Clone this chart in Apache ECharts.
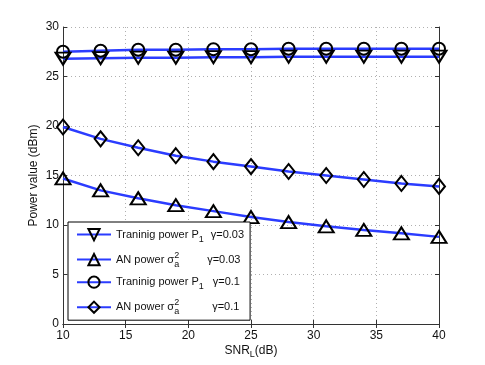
<!DOCTYPE html>
<html><head><meta charset="utf-8">
<script src="https://cdn.jsdelivr.net/npm/echarts@6/dist/echarts.min.js"></script>
<style>html,body{margin:0;padding:0;background:#fff}#c{width:485px;height:365px}</style>
</head><body><div id="c"></div>
<script>
var snr = [10, 13, 16, 19, 22, 25, 28, 31, 34, 37, 40];
var trainP003 = [26.8, 26.85, 26.9, 26.9, 26.95, 26.95, 27.0, 27.0, 27.0, 27.0, 27.0];
var anP003 = [14.7, 13.5, 12.7, 12.0, 11.4, 10.8, 10.3, 9.87, 9.5, 9.16, 8.8];
var trainP01 = [27.5, 27.6, 27.7, 27.7, 27.75, 27.75, 27.8, 27.8, 27.8, 27.8, 27.8];
var anP01 = [19.9, 18.7, 17.8, 17.0, 16.4, 15.9, 15.4, 15.0, 14.6, 14.2, 13.9];
var names = ['Training γ=0.03', 'AN γ=0.03', 'Training γ=0.1', 'AN γ=0.1'];
var xTicks = [10, 15, 20, 25, 30, 35, 40];
var yTicks = [0, 5, 10, 15, 20, 25, 30];

function pairs(ys){ return snr.map(function(x,i){ return [x, ys[i]]; }); }
var font = 'Liberation Sans, Arial, Helvetica, sans-serif';
var blue = '#2b3cff';
function mk(name, data, symbol, size, rot){
  return {
    name: name, type: 'line', data: pairs(data), symbol: symbol, symbolSize: size,
    symbolRotate: rot || 0, showAllSymbol: true,
    lineStyle: {color: blue, width: 2.5},
    itemStyle: {color: 'rgba(255,255,255,0)', borderColor: '#000', borderWidth: 2},
    emphasis: {disabled: true}, animation: false
  };
}
var legendText = {};
legendText[names[0]] = '{n|Traninig power P}{sb|1}{sp1|}{g|γ=0.03}';
legendText[names[1]] = '{n|AN power σ}{su|2}{sb|a}{sp2|}{g|γ=0.03}';
legendText[names[2]] = '{n|Traninig power P}{sb|1}{sp3|}{g|γ=0.1}';
legendText[names[3]] = '{n|AN power σ}{su|2}{sb|a}{sp4|}{g|γ=0.1}';

var chart = echarts.init(document.getElementById('c'), null, {renderer: 'canvas'});
var axisCommon = {
  axisLine: {show: true, lineStyle: {color: '#333', width: 1}},
  axisTick: {show: true, inside: true, length: 4, lineStyle: {color: '#333'}},
  axisLabel: {color: '#111', fontSize: 12, fontFamily: font}
};
chart.setOption({
  backgroundColor: '#fff',
  animation: false,
  grid: {left: 63, right: 46, top: 27, bottom: 41},
  legend: {
    orient: 'vertical', left: 68, top: 222,
    itemWidth: 34, itemHeight: 14, itemGap: 7,
    padding: [6, 6, 4, 8],
    borderColor: '#000', borderWidth: 1, backgroundColor: '#fff',
    data: names,
    formatter: function(n){ return legendText[n]; },
    textStyle: {
      fontFamily: font, fontSize: 11, color: '#111',
      rich: {
        n: {fontFamily: font, fontSize: 11, lineHeight: 18, color: '#111'},
        sb: {fontFamily: font, fontSize: 9, lineHeight: 9, verticalAlign: 'bottom', color: '#111'},
        su: {fontFamily: font, fontSize: 9, lineHeight: 9, verticalAlign: 'top', width: 0.01, color: '#111'},
        sp1: {width: 7, lineHeight: 18}, sp2: {width: 28, lineHeight: 18},
        sp3: {width: 9, lineHeight: 18}, sp4: {width: 33, lineHeight: 18},
        g: {fontFamily: font, fontSize: 11, lineHeight: 18, color: '#111'}
      }
    }
  },
  xAxis: [
    Object.assign({}, axisCommon, {
      type: 'value', min: 10, max: 40, interval: 5, position: 'bottom',
      splitLine: {show: true, lineStyle: {color: '#b0b0b0', type: [1, 3], width: 1}},
      name: '{n|SNR}{s|L}{n|(dB)}', nameLocation: 'middle', nameGap: 19, nameMoveOverlap: false,
      nameTextStyle: {fontFamily: font, fontSize: 12, color: '#111',
        rich: {n: {fontSize: 12, lineHeight: 16, fontFamily: font, color: '#111'},
               s: {fontSize: 9, lineHeight: 8, verticalAlign: 'bottom', fontFamily: font, color: '#111'}}},
      axisLabel: {color: '#111', fontSize: 12, fontFamily: font, margin: 6,
        formatter: function(v){ return xTicks.indexOf(v) >= 0 ? String(v) : ''; }}
    }),
    Object.assign({}, axisCommon, {
      type: 'value', min: 10, max: 40, interval: 5, position: 'top',
      axisLabel: {show: false}, splitLine: {show: false}
    })
  ],
  yAxis: [
    Object.assign({}, axisCommon, {
      type: 'value', min: 0, max: 30, interval: 5, position: 'left',
      splitLine: {show: true, lineStyle: {color: '#b0b0b0', type: [1, 3], width: 1}},
      name: 'Power value (dBm)', nameLocation: 'middle', nameGap: 23, nameMoveOverlap: false,
      nameTextStyle: {fontFamily: font, fontSize: 12, color: '#111'},
      axisLabel: {color: '#111', fontSize: 12, fontFamily: font, margin: 4,
        formatter: function(v){ return yTicks.indexOf(v) >= 0 ? String(v) : ''; }}
    }),
    Object.assign({}, axisCommon, {
      type: 'value', min: 0, max: 30, interval: 5, position: 'right',
      axisLabel: {show: false}, splitLine: {show: false}
    })
  ],
  series: [
    mk(names[0], trainP003, 'triangle', [15, 12], 180),
    mk(names[1], anP003, 'triangle', [15, 12], 0),
    mk(names[2], trainP01, 'circle', 12, 0),
    mk(names[3], anP01, 'diamond', [12, 15], 0)
  ]
});
</script></body></html>
